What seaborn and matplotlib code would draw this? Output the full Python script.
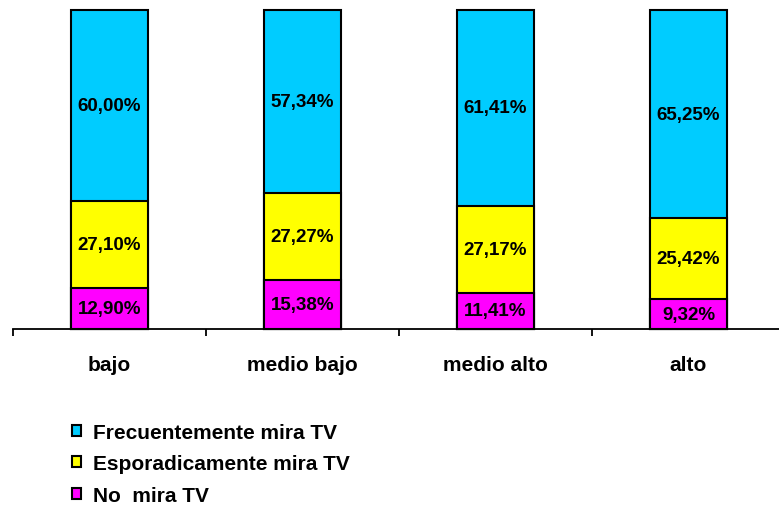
import matplotlib
matplotlib.use("Agg")
import matplotlib.pyplot as plt
import seaborn as sns
import pandas as pd
from matplotlib.patches import Patch

categories = ["bajo", "medio bajo", "medio alto", "alto"]
no_mira = [12.90, 15.38, 11.41, 9.32]
esporadica = [27.10, 27.27, 27.17, 25.42]
frecuente = [60.00, 57.34, 61.41, 65.25]
series_names = ["Frecuentemente mira TV", "Esporadicamente mira TV", "No  mira TV"]
colors = {"frec": "#00CCFF", "esp": "#FFFF00", "no": "#FF00FF"}

sns.set_theme(style="white")
plt.rcParams["font.family"] = ["Liberation Sans", "DejaVu Sans"]
plt.rcParams["text.color"] = "black"
plt.rcParams["xtick.color"] = "black"

fig = plt.figure(figsize=(7.79, 5.06), dpi=100)
W, H = 779, 506
ax = fig.add_axes([13 / W, 1 - 330 / H, (785 - 13) / W, (330 - 11) / H])

df = pd.DataFrame({"cat": categories, "no": no_mira, "esp": esporadica, "frec": frecuente})
df["c1"] = df["no"]
df["c2"] = df["no"] + df["esp"]
df["c3"] = df["no"] + df["esp"] + df["frec"]

bw = 0.395
for col, key in [("c3", "frec"), ("c2", "esp"), ("c1", "no")]:
    sns.barplot(data=df, x="cat", y=col, color=colors[key], saturation=1,
                width=bw, edgecolor="black", linewidth=1.5, ax=ax,
                order=categories, errorbar=None)
for p in ax.patches:
    p.set_clip_on(False)

for i in range(len(categories)):
    segs = [(0, no_mira[i]), (no_mira[i], esporadica[i]), (no_mira[i] + esporadica[i], frecuente[i])]
    for b, h in segs:
        ax.text(i, b + h / 2, f"{h:.2f}%".replace(".", ","), ha="center", va="center",
                fontsize=13.5, fontweight="bold", color="black")

ax.set_xlim(-0.5, 3.5)
ax.set_ylim(0, 100)
ax.set_xlabel("")
ax.set_ylabel("")
ax.set_yticks([])
for s in ["left", "top", "right"]:
    ax.spines[s].set_visible(False)
ax.spines["bottom"].set_color("black")
ax.spines["bottom"].set_linewidth(1.3)
ax.set_xticks(range(4))
ax.set_xticklabels(categories, fontsize=15, fontweight="bold", color="black")
ax.tick_params(axis="x", which="major", length=0, pad=19, labelcolor="black")
ax.set_xticks([-0.5, 0.5, 1.5, 2.5, 3.5], minor=True)
ax.tick_params(axis="x", which="minor", length=5, width=1.3, direction="out", color="black", bottom=True)

handles = [Patch(facecolor=colors["frec"], edgecolor="black", linewidth=1.5),
           Patch(facecolor=colors["esp"], edgecolor="black", linewidth=1.5),
           Patch(facecolor=colors["no"], edgecolor="black", linewidth=1.5)]
leg = fig.legend(handles, series_names, loc="upper left", bbox_to_anchor=(53 / W, 1 - 405 / H),
                 frameon=False, handlelength=0.45, handleheight=0.45, handletextpad=0.55,
                 labelspacing=0.6, prop={"weight": "bold", "size": 15})
for t in leg.get_texts():
    t.set_color("black")

fig.savefig("out.png", dpi=100)
